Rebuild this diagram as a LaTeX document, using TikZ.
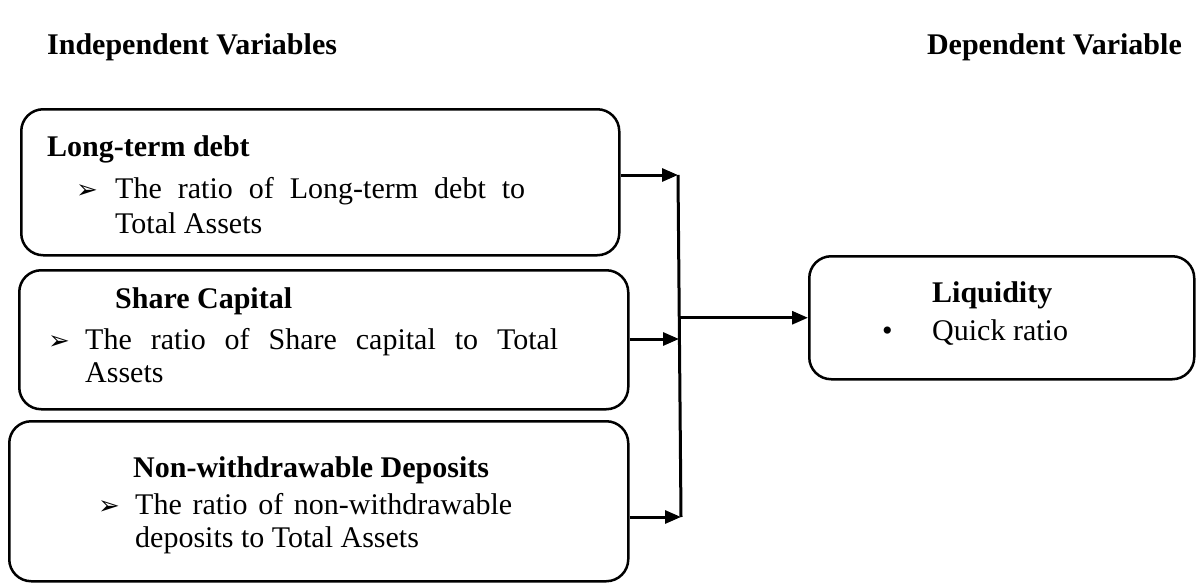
\documentclass[tikz,border=0pt]{standalone}
\usepackage{fontspec}
\setmainfont{Liberation Serif}
\newfontfamily\dingfont{DejaVu Sans}
\usetikzlibrary{positioning}
\usetikzlibrary{arrows.meta}

\newcommand{\arrowbullet}{{\dingfont\fontsize{26}{26}\selectfont ➢}}

\begin{document}
\begin{tikzpicture}[x=1pt, y=-1pt,
    every node/.style={font=\fontsize{30}{35}\selectfont, inner sep=0pt},
    varbox/.style={draw, line width=2.5pt, rounded corners=22pt, anchor=north west},
    head/.style={font=\fontsize{30}{35}\selectfont\bfseries, anchor=base west},
    txt/.style={anchor=base west},
    feed/.style={line width=3pt, -{Triangle[length=16pt, width=13pt]}}]
    \useasboundingbox (0,0) rectangle (1199,586);

    % column titles
    \node[head] (indep) at (47,55) {Independent Variables};
    \node[head, anchor=base east] (dep) at (1182,55) {Dependent Variable};

    % boxes
    \node[varbox, minimum width=598pt, minimum height=146pt] (debt) at (20,108) {};
    \node[varbox, minimum width=609pt, minimum height=139pt] (capital) at (18,269) {};
    \node[varbox, minimum width=619pt, minimum height=160pt] (deposits) at (8,420) {};
    \node[varbox, minimum width=385pt, minimum height=123pt] (liquidity) at (808,255) {};

    % texts (first lines are justified, as in the source)
    \node[head] (debth) at (47,156) {Long-term debt};
    \node[txt] (debtb) at (76,198) {\arrowbullet};
    \node[txt] (debt1) at (115,198) {\makebox[410pt][s]{The ratio of Long-term debt to}};
    \node[txt] (debt2) at (115,233) {Total Assets};

    \node[head] (caph) at (115,308) {Share Capital};
    \node[txt] (capb) at (48,349) {\arrowbullet};
    \node[txt] (cap1) at (85,349) {\makebox[473pt][s]{The ratio of Share capital to Total}};
    \node[txt] (cap2) at (85,382) {Assets};

    \node[head] (deph) at (133,477) {Non-withdrawable Deposits};
    \node[txt] (depb) at (98,514) {\arrowbullet};
    \node[txt] (dep1) at (135,514) {\makebox[377pt][s]{The ratio of non-withdrawable}};
    \node[txt] (dep2) at (135,547) {deposits to Total Assets};

    \node[head] (liqh) at (932,302) {Liquidity};
    \node[txt] (liqb) at (882,340) {•};
    \node[txt] (liq1) at (932,340) {Quick ratio};

    % junction
    \coordinate (j1) at (678,175);
    \coordinate (j2) at (679,339);
    \coordinate (j3) at (681,517);
    \coordinate (jm) at (liquidity.west -| j2);

    \draw[line width=3pt] (j1) -- (j3);
    \draw[feed] (debt.east |- j1) -- (j1);
    \draw[feed] (capital.east |- j2) -- (j2);
    \draw[feed] (deposits.east |- j3) -- (j3);
    \draw[feed] (jm) -- (liquidity.west);
\end{tikzpicture}
\end{document}
